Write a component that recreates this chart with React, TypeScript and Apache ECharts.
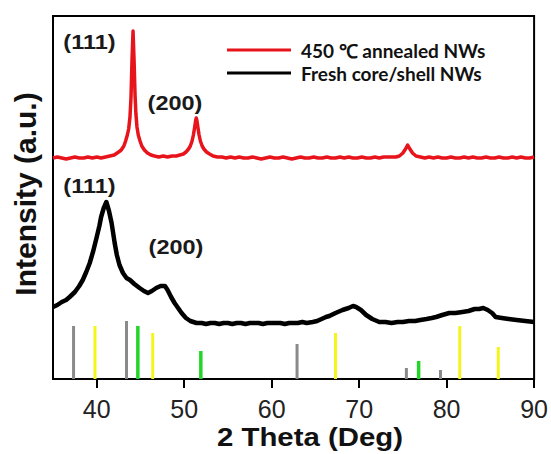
import React, { useEffect, useRef } from "react";
import * as echarts from "echarts";

// 2θ (deg) vs intensity (a.u.)
const annealedNWs: [number, number][] = [
  [35, 221], [35.5, 222], [36, 221], [36.5, 220], [37, 221], [37.5, 222], [38, 221], [38.5, 221],
  [39, 222], [39.5, 221], [40, 222], [40.5, 221], [41, 222], [41.5, 223], [42, 224], [42.5, 227],
  [42.8, 229], [43.1, 233], [43.3, 238], [43.5, 244], [43.65, 250], [43.8, 262], [43.92, 282],
  [44.03, 318], [44.15, 348], [44.27, 318], [44.38, 284], [44.48, 265], [44.6, 252],
  [44.75, 244], [44.95, 238], [45.15, 233], [45.45, 229], [45.8, 226], [46.2, 224], [46.6, 223],
  [47.1, 222], [47.6, 223], [48.1, 222], [48.6, 223], [49.1, 223], [49.5, 224], [49.9, 225],
  [50.2, 227], [50.5, 230], [50.7, 233], [50.9, 238], [51.05, 244], [51.2, 252], [51.3, 258],
  [51.38, 261], [51.46, 258], [51.56, 252], [51.7, 244], [51.85, 238], [52.05, 233], [52.25, 230],
  [52.55, 227], [52.9, 225], [53.3, 223], [53.8, 222], [54.3, 222], [54.8, 221], [55.3, 222],
  [55.8, 221], [56.3, 222], [56.8, 221], [57.3, 221], [57.8, 222], [58.3, 221], [58.8, 220],
  [59.3, 221], [59.8, 222], [60.3, 221], [60.8, 221], [61.3, 222], [61.8, 221], [62.3, 220],
  [62.8, 221], [63.3, 222], [63.8, 221], [64.3, 221], [64.8, 222], [65.3, 221], [65.8, 221],
  [66.3, 222], [66.8, 221], [67.3, 221], [67.8, 222], [68.3, 221], [68.8, 222], [69.3, 221],
  [69.8, 221], [70.3, 222], [70.8, 221], [71.3, 221], [71.8, 222], [72.3, 221], [72.8, 222],
  [73.3, 222], [73.8, 222], [74.2, 222], [74.6, 223], [75.0, 226], [75.3, 230], [75.54, 234],
  [75.8, 230], [76.1, 226], [76.5, 223], [77, 222], [77.5, 221], [78, 222], [78.5, 221], [79, 222],
  [79.5, 221], [80, 221], [80.5, 222], [81, 221], [81.5, 221], [82, 222], [82.5, 221], [83, 222],
  [83.5, 221], [84, 221], [84.5, 222], [85, 221], [85.5, 221], [86, 222], [86.5, 221], [87, 221],
  [87.5, 222], [88, 221], [88.5, 222], [89, 221], [89.5, 221], [90, 222],
];

const freshNWs: [number, number][] = [
  [35, 72], [35.5, 74], [36, 77], [36.5, 79], [36.9, 82], [37.5, 87], [38, 93], [38.4, 99],
  [38.8, 107], [39.2, 116], [39.6, 128], [40, 142], [40.3, 153], [40.5, 162], [40.8, 171],
  [41.1, 177], [41.4, 168], [41.7, 156], [42.05, 136], [42.3, 124], [42.6, 114], [43, 106],
  [43.4, 101], [43.8, 99], [44.3, 95], [44.9, 91], [45.4, 88], [45.86, 86], [46.3, 88], [46.8, 91],
  [47.3, 93], [47.8, 93], [48.1, 89], [48.5, 82], [48.9, 76], [49.3, 71], [49.7, 66], [50.2, 61],
  [50.7, 58], [51.4, 56], [52, 56], [52.5, 55], [53, 56], [53.5, 56], [54, 55], [54.5, 56], [55, 56],
  [55.5, 55], [56, 56], [56.5, 56], [57, 55], [57.5, 56], [58, 56], [58.5, 56], [59, 55], [59.5, 56],
  [60, 56], [60.5, 56], [61, 56], [61.5, 55], [62, 56], [62.5, 56], [63, 56], [63.5, 57], [64, 56],
  [64.7, 57], [65.2, 58], [65.7, 60], [66.2, 62], [66.6, 63], [67.3, 66], [68.1, 69], [68.8, 71],
  [69.3, 73], [69.65, 72], [70.2, 69], [70.8, 64], [71.5, 60], [72.3, 57], [73, 57], [73.7, 56],
  [74.4, 57], [75, 57], [75.7, 58], [76.4, 58], [77, 59], [77.7, 60], [78.3, 61], [78.8, 62],
  [79.5, 64], [80.3, 66], [81, 66], [81.8, 67], [82.5, 68], [83.2, 70], [83.7, 70], [84.2, 71],
  [84.7, 69], [85.2, 66], [85.6, 62], [86.3, 61], [87.1, 60], [88, 59], [89, 58], [90, 57],
];

// reference stick patterns (position, relative height)
const graySticks: [number, number][] = [[37.35, 53], [43.4, 58], [62.9, 35], [75.4, 11], [79.3, 9]];
const yellowSticks: [number, number][] = [[39.8, 53], [46.4, 46], [67.3, 46], [81.5, 53], [85.9, 32]];
const greenSticks: [number, number][] = [[44.7, 53], [51.9, 28], [76.8, 18]];

const xTicks = [40, 50, 60, 70, 80, 90];
const seriesNames = ["450 \u2103 annealed NWs", "Fresh core/shell NWs"];

const peakLabels: { text: string; x: number; y: number }[] = [
  { text: "(111)", x: 89.5, y: 41.5 },
  { text: "(200)", x: 175, y: 103 },
  { text: "(111)", x: 89.5, y: 186 },
  { text: "(200)", x: 176, y: 246.5 },
];

const stickSeries = (data: [number, number][], color: string, w: number) => ({
  type: "custom" as const,
  data,
  itemStyle: { color },
  silent: true,
  renderItem: (params: any, api: any) => {
    const x = api.value(0);
    const h = api.value(1);
    const top = api.coord([x, h]);
    const bot = api.coord([x, 0]);
    return {
      type: "rect",
      shape: { x: top[0] - w / 2, y: top[1], width: w, height: bot[1] - top[1] },
      style: { fill: api.visual("color") },
    };
  },
});

export default function App() {
  const ref = useRef<HTMLDivElement>(null);
  useEffect(() => {
    if (!ref.current) return;
    const chart = echarts.init(ref.current, null, { renderer: "svg" });
    const font = "'Liberation Sans', Arial, sans-serif";
    chart.setOption({
      animation: false,
      backgroundColor: "#fff",
      grid: {
        left: 53, right: 16, top: 16, bottom: 75,
        show: true, borderColor: "#000", borderWidth: 2, backgroundColor: "transparent",
      },
      legend: {
        left: 227, top: 40, orient: "vertical", padding: 0,
        itemWidth: 64, itemHeight: 3, itemGap: 3, icon: "rect",
        selectedMode: false,
        data: seriesNames,
        textStyle: {
          fontFamily: "Lato, 'Open Sans', sans-serif", fontWeight: "bold", fontSize: 19,
          color: "#111", lineHeight: 20, padding: [0, 0, 0, 5],
        },
      },
      xAxis: {
        type: "value", min: 35, max: 90,
        axisLine: { show: true, lineStyle: { color: "#000", width: 2 } },
        axisTick: { show: true, customValues: xTicks, length: 9, lineStyle: { color: "#000", width: 2 } },
        axisLabel: { customValues: xTicks, fontFamily: font, fontSize: 25, color: "#222", margin: 17 },
        splitLine: { show: false },
      },
      yAxis: {
        type: "value", min: 0, max: 363,
        axisLine: { show: true, lineStyle: { color: "#000", width: 2 } },
        axisTick: { show: false },
        axisLabel: { show: false },
        splitLine: { show: false },
      },
      series: [
        stickSeries(graySticks, "#8a8a8a", 3),
        stickSeries(yellowSticks, "#f5f51e", 3),
        stickSeries(greenSticks, "#22d628", 3.5),
        {
          name: seriesNames[0], type: "line", data: annealedNWs, showSymbol: false, symbol: "none",
          color: "#e8141b", lineStyle: { color: "#e8141b", width: 3.5, join: "round" }, z: 5,
        },
        {
          name: seriesNames[1], type: "line", data: freshNWs, showSymbol: false, symbol: "none",
          color: "#000", lineStyle: { color: "#000", width: 4.5, join: "round" }, z: 5,
        },
      ],
      graphic: [
        ...peakLabels.map((p) => ({
          type: "text", x: p.x, y: p.y, scaleX: 1.12, z: 10,
          style: {
            text: p.text, fontFamily: font, fontWeight: "bold", fontSize: 21, fill: "#1a1a1a",
            align: "center", verticalAlign: "middle",
          },
        })),
        {
          type: "text", x: 310, y: 437.5, scaleX: 1.13,
          style: {
            text: "2 Theta (Deg)", fontFamily: font, fontWeight: "bold", fontSize: 26, fill: "#111",
            align: "center", verticalAlign: "middle",
          },
        },
        {
          type: "text", x: 25, y: 194, rotation: Math.PI / 2,
          style: {
            text: "Intensity (a.u.)", fontFamily: font, fontWeight: "bold", fontSize: 30, fill: "#111",
            align: "center", verticalAlign: "middle",
          },
        },
      ],
    });
    return () => chart.dispose();
  }, []);
  return <div ref={ref} style={{ position: "fixed", left: 0, top: 0, width: 551, height: 454 }} />;
}
